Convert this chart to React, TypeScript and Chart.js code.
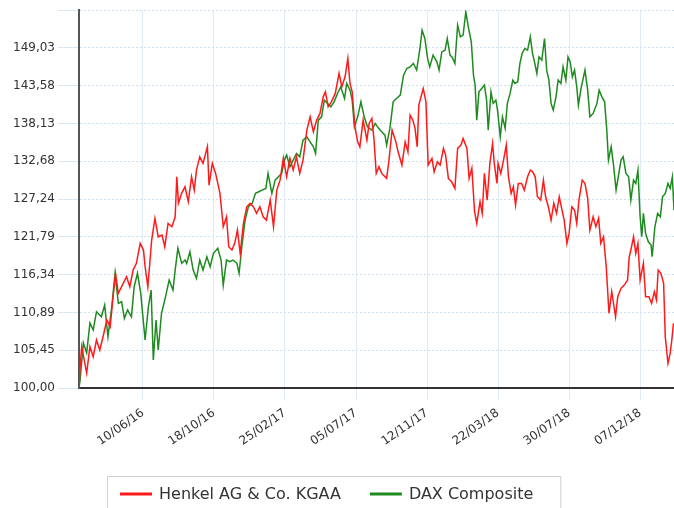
import React, { useEffect, useRef } from "react";
import { Chart, registerables } from "chart.js";

Chart.register(...registerables);

// x values are days relative to 10/06/16
const xTickDays = [0, 130, 260, 390, 520, 650, 780, 910];
const xTickLabels = ["10/06/16", "18/10/16", "25/02/17", "05/07/17", "12/11/17", "22/03/18", "30/07/18", "07/12/18"];
const xMinDay = -117;
const xMaxDay = 972;

const yTickValues = [100, 105.45, 110.89, 116.34, 121.79, 127.24, 132.68, 138.13, 143.58, 149.03, 154.47];
const yTickLabels = ["100,00", "105,45", "110,89", "116,34", "121,79", "127,24", "132,68", "138,13", "143,58", "149,03", ""];

const seriesNames = ["Henkel AG & Co. KGAA", "DAX Composite"];
const seriesColors = ["#ff1a1a", "#1f8a1f"];

const henkelDays = [
  -117,
  -115, -112, -103, -97, -91, -85, -79, -73, -66, -60,
  -54, -50, -45, -36, -30, -24, -18, -12, -5, 1,
  4, 9, 16, 22, 28, 35, 40, 46, 53, 59,
  62, 65, 71, 77, 83, 89, 94, 98, 104, 110,
  118, 121, 127, 133, 141, 147, 153, 157, 163, 168,
  173, 178, 184, 190, 196, 202, 208, 214, 220, 226,
  233, 239, 245, 251, 257, 263, 269, 275, 281, 287,
  293, 300, 306, 312, 318, 324, 330, 334, 339, 345,
  352, 359, 364, 370, 375, 379, 383, 388, 393, 397,
  403, 410, 414, 419, 423, 427, 432, 437, 446, 450,
  456, 463, 467, 474, 480, 485, 489, 494, 498, 502,
  505, 513, 518, 522, 529, 533, 539, 544, 550, 554,
  559, 565, 571, 576, 582, 586, 593, 597, 602, 607,
  611, 617, 621, 625, 630, 635, 640, 643, 648, 650,
  655, 660, 665, 669, 674, 678, 682, 687, 693, 698,
  704, 709, 713, 718, 722, 728, 733, 737, 742, 747,
  752, 757, 762, 767, 771, 776, 780, 785, 790, 794,
  798, 804, 809, 814, 818, 824, 829, 834, 838, 843,
  848, 853, 858, 865, 869, 875, 881, 887, 890, 893,
  898, 902, 906, 910, 916, 920, 926, 931, 936, 940,
  943, 948, 953, 956, 961, 965, 968, 971,
];
const henkelValues = [
  100.0,
  103.07, 105.95, 102.16, 105.95, 104.51, 106.92, 105.48, 107.39, 109.8, 108.83,
  113.65, 116.43, 113.65, 115.09, 116.04, 114.6, 117.0, 117.97, 120.85, 119.89,
  117.48, 114.6, 121.33, 124.46, 121.8, 122.05, 120.36, 123.73, 123.25, 124.69,
  130.45, 126.66, 128.1, 129.01, 126.85, 130.45, 128.53, 131.42, 133.33, 132.38,
  134.77, 129.25, 132.38, 130.94, 128.06, 123.25, 124.69, 120.36, 119.89, 120.85,
  122.77, 119.41, 123.73, 126.13, 126.62, 126.13, 125.18, 126.13, 124.69, 124.21,
  127.09, 123.25, 128.53, 129.97, 133.15, 130.45, 133.1, 131.42, 133.33, 130.94,
  132.86, 137.18, 139.1, 136.94, 138.62, 139.59, 141.98, 142.7, 140.54, 141.26,
  142.47, 145.35, 143.42, 144.86, 147.51, 143.91, 142.7, 137.66, 135.49, 134.77,
  138.62, 135.74, 138.15, 138.87, 135.74, 130.94, 131.89, 130.94, 130.22, 132.61,
  137.18, 135.49, 134.05, 132.14, 135.49, 134.05, 139.34, 138.62, 137.43, 134.77,
  140.78, 143.19, 141.26, 132.14, 133.1, 131.17, 132.61, 132.14, 134.54, 133.58,
  130.22, 129.73, 128.78, 134.54, 135.02, 135.98, 134.54, 130.22, 131.66, 125.41,
  123.73, 126.85, 125.18, 130.94, 127.09, 132.38, 135.26, 132.38, 129.5, 132.38,
  130.94, 132.86, 135.02, 130.45, 128.06, 129.01, 126.37, 129.5, 129.5, 128.53,
  130.45, 131.42, 131.2, 130.45, 127.57, 127.09, 129.97, 127.57, 126.13, 124.21,
  126.62, 125.18, 127.57, 125.65, 124.21, 120.85, 122.29, 126.13, 125.65, 123.73,
  127.09, 129.97, 129.5, 127.34, 122.77, 124.69, 123.25, 124.46, 120.85, 121.8,
  117.48, 110.77, 113.88, 110.27, 113.16, 114.37, 114.84, 115.56, 118.92, 119.89,
  121.8, 119.41, 120.85, 115.56, 117.97, 113.16, 113.16, 112.21, 113.88, 112.68,
  117.0, 116.53, 115.09, 107.39, 103.56, 105.0, 106.92, 109.32,
];

const daxDays = [
  -117, -115, -109, -103, -97, -91, -85, -76, -70, -64,
  -57, -51, -45, -39, -34, -28, -21, -16, -10, -4,
  4, 10, 15, 19, 24, 28, 34, 40, 48, 55,
  59, 64, 71, 77, 80, 86, 92, 98, 104, 110,
  117, 123, 129, 137, 143, 147, 153, 159, 165, 172,
  176, 181, 187, 193, 200, 206, 212, 218, 225, 229,
  236, 242, 248, 254, 259, 263, 269, 275, 281, 287,
  293, 300, 306, 312, 316, 321, 327, 332, 338, 344,
  350, 356, 362, 369, 373, 379, 383, 387, 393, 399,
  405, 411, 419, 425, 431, 437, 443, 446, 452, 458,
  464, 471, 477, 483, 489, 495, 501, 507, 511, 516,
  521, 525, 531, 538, 542, 547, 553, 557, 562, 566,
  571, 576, 581, 586, 591, 596, 601, 605, 608, 611,
  615, 620, 625, 629, 632, 637, 641, 646, 649, 654,
  658, 663, 667, 672, 677, 681, 686, 690, 694, 699,
  704, 709, 713, 716, 721, 725, 730, 735, 739, 743,
  747, 751, 756, 760, 765, 769, 774, 778, 782, 786,
  790, 794, 797, 802, 809, 814, 818, 824, 831, 835,
  840, 845, 849, 852, 857, 861, 866, 870, 875, 879,
  884, 889, 893, 898, 902, 906, 910, 913, 916, 920,
  925, 930, 932, 937, 942, 947, 951, 956, 961, 965,
  969, 972,
];
const daxValues = [
  100.0, 101.15, 106.48, 105.04, 109.37, 108.36, 111.0, 110.27, 111.96, 107.39,
  111.72, 116.53, 112.21, 112.44, 110.04, 111.24, 110.27, 114.6, 116.53, 113.65,
  106.92, 111.72, 114.12, 104.04, 109.8, 105.48, 110.77, 112.68, 115.56, 114.12,
  117.0, 120.13, 117.97, 118.45, 117.97, 119.64, 117.0, 115.81, 118.45, 117.0,
  118.92, 117.48, 119.41, 120.13, 118.45, 114.84, 118.45, 118.2, 118.45, 117.97,
  116.53, 120.36, 124.21, 126.13, 126.62, 128.06, 128.29, 128.53, 128.78, 130.94,
  128.06, 129.97, 130.45, 130.94, 132.86, 133.58, 131.89, 132.86, 133.82, 133.33,
  135.74, 136.22, 135.49, 134.77, 133.82, 138.62, 139.1, 141.5, 141.03, 140.54,
  141.26, 142.47, 143.42, 141.75, 143.91, 142.94, 141.5, 137.66, 139.1, 141.26,
  139.1, 137.66, 137.18, 138.15, 137.47, 136.94, 136.46, 135.02, 137.43, 141.26,
  141.75, 142.22, 145.11, 146.07, 146.3, 146.79, 145.83, 148.95, 151.59, 150.39,
  147.51, 146.3, 147.99, 147.02, 145.83, 148.46, 148.71, 150.39, 147.99, 147.7,
  146.79, 152.31, 150.63, 150.87, 154.23, 151.84, 149.91, 145.11, 143.67, 138.62,
  142.7, 143.19, 143.67, 141.5, 137.18, 142.7, 141.03, 141.5, 140.06, 136.22,
  139.1, 137.43, 141.03, 142.47, 144.39, 143.91, 144.14, 146.79, 148.23, 148.95,
  148.71, 150.63, 148.23, 147.27, 145.35, 147.74, 147.27, 150.39, 145.83, 144.39,
  141.03, 140.06, 141.98, 144.39, 143.91, 146.3, 144.39, 147.74, 147.02, 144.86,
  145.83, 143.42, 140.78, 143.23, 145.83, 142.94, 139.1, 139.59, 141.03, 142.94,
  141.98, 141.26, 137.18, 132.86, 134.77, 132.38, 128.53, 130.45, 132.86, 133.33,
  130.94, 130.45, 127.09, 129.97, 129.5, 131.42, 124.69, 121.8, 125.18, 122.29,
  121.08, 120.61, 118.92, 123.25, 125.18, 124.69, 127.57, 128.06, 129.5, 128.78,
  130.45, 125.65,
];

const FONT = '"DejaVu Sans", Verdana, sans-serif';

const boxLegend = {
  id: "boxLegend",
  afterDraw(chart: any) {
    const ctx = chart.ctx as CanvasRenderingContext2D;
    const datasets = chart.data.datasets;
    ctx.save();
    ctx.font = `16px ${FONT}`;
    ctx.textBaseline = "middle";
    const y = 494;
    const startX = 120;
    const lineLen = 32;
    const gapText = 7;
    const gapItem = 29;
    let total = 0;
    datasets.forEach((ds: any, i: number) => {
      total += lineLen + gapText + ctx.measureText(ds.label).width;
      if (i < datasets.length - 1) total += gapItem;
    });
    ctx.fillStyle = "#ffffff";
    ctx.fillRect(107.5, 476.5, total + 13 + 27, 45);
    ctx.strokeStyle = "#cfcfcf";
    ctx.lineWidth = 1;
    ctx.strokeRect(107.5, 476.5, total + 13 + 27, 45);
    let x = startX;
    datasets.forEach((ds: any) => {
      ctx.strokeStyle = ds.borderColor;
      ctx.lineWidth = 3;
      ctx.beginPath();
      ctx.moveTo(x, y);
      ctx.lineTo(x + lineLen, y);
      ctx.stroke();
      ctx.fillStyle = "#333333";
      ctx.fillText(ds.label, x + lineLen + gapText, y + 1);
      x += lineLen + gapText + ctx.measureText(ds.label).width + gapItem;
    });
    ctx.restore();
  },
};

export default function App() {
  const ref = useRef<HTMLCanvasElement | null>(null);

  useEffect(() => {
    if (!ref.current) return;
    const chart = new Chart(ref.current, {
      type: "line",
      data: {
        datasets: [
          {
            label: seriesNames[0],
            data: henkelDays.map((d, i) => ({ x: d, y: henkelValues[i] })),
            borderColor: seriesColors[0],
            backgroundColor: seriesColors[0],
            borderWidth: 1.5,
            pointRadius: 0,
            tension: 0,
            fill: false,
          },
          {
            label: seriesNames[1],
            data: daxDays.map((d, i) => ({ x: d, y: daxValues[i] })),
            borderColor: seriesColors[1],
            backgroundColor: seriesColors[1],
            borderWidth: 1.5,
            pointRadius: 0,
            tension: 0,
            fill: false,
          },
        ],
      },
      options: {
        animation: false,
        responsive: false,
        devicePixelRatio: 1,
        layout: { padding: { top: 10, left: 0, right: 0, bottom: 0 } },
        plugins: {
          legend: { display: false },
          tooltip: { enabled: false },
        },
        scales: {
          x: {
            type: "linear",
            min: xMinDay,
            max: xMaxDay,
            afterBuildTicks: (s: any) => {
              s.ticks = xTickDays.map((v) => ({ value: v }));
            },
            afterFit: (s: any) => {
              s.height = 120;
            },
            ticks: {
              autoSkip: false,
              minRotation: 35,
              maxRotation: 35,
              padding: 6,
              color: "#333333",
              font: { family: FONT, size: 12 },
              callback: (_v: any, i: number) => xTickLabels[i],
            },
            grid: {
              color: "#e1ebf8",
              lineWidth: 1,
              tickLength: 12,
              tickColor: "#e1ebf8",
            },
            border: { display: true, color: "#333333", width: 2 },
          },
          y: {
            type: "linear",
            min: yTickValues[0],
            max: yTickValues[yTickValues.length - 1],
            afterBuildTicks: (s: any) => {
              s.ticks = yTickValues.map((v) => ({ value: v }));
            },
            afterFit: (s: any) => {
              s.width = 79;
            },
            ticks: {
              autoSkip: false,
              padding: 3,
              color: "#333333",
              font: { family: FONT, size: 12 },
              callback: (_v: any, i: number) => yTickLabels[i],
            },
            grid: {
              color: "#cddff3",
              lineWidth: 1,
              tickLength: 21,
              tickColor: "#d9e6f6",
              tickBorderDash: [],
            },
            border: { display: true, color: "#555555", width: 2, dash: [2, 2] },
          },
        },
      },
      plugins: [boxLegend],
    });
    return () => chart.destroy();
  }, []);

  return (
    <div style={{ position: "fixed", left: 0, top: 0, width: 674, height: 508, background: "#ffffff" }}>
      <canvas ref={ref} width={674} height={508} style={{ display: "block", width: 674, height: 508 }} />
    </div>
  );
}
